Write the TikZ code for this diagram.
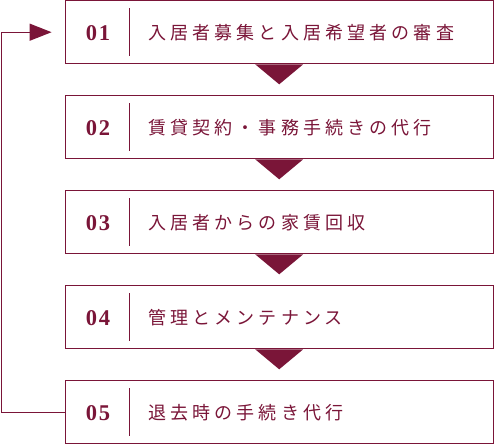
\documentclass[tikz,border=0pt]{standalone}
\usepackage{fontspec}
\setmainfont{Liberation Serif}
\newfontfamily\jp{Noto Sans CJK JP}[LetterSpace=23]
\newfontfamily\numfont{Liberation Serif}[LetterSpace=8]
\usetikzlibrary{calc,arrows.meta}
\definecolor{wine}{RGB}{122,21,56}
\tikzset{
  stepbox/.style={draw=wine, line width=1.2pt, minimum width=428pt, minimum height=63pt, inner sep=0pt},
  num/.style={text=wine, font=\numfont\fontsize{22.5}{22}\selectfont\bfseries, anchor=center, inner sep=0pt},
  lbl/.style={text=wine, font=\jp\fontsize{18}{18}\selectfont, anchor=west, inner sep=0pt},
  divider/.style={draw=wine, line width=1pt},
  tri/.style={fill=wine, draw=none},
}
\begin{document}
\begin{tikzpicture}[x=1pt,y=-1pt]
\useasboundingbox (0,0) rectangle (494,445);
\foreach \i/\n/\t in {1/01/入居者募集と入居希望者の審査, 2/02/賃貸契約・事務手続きの代行, 3/03/入居者からの家賃回収, 4/04/管理とメンテナンス, 5/05/退去時の手続き代行}{
  \node[stepbox] (b\i) at (279.2, {32.2+95*(\i-1)}) {};
  \node[num] (n\i) at (98, {33.5+95*(\i-1)}) {\n};
  \node[lbl] (t\i) at (148, {33+95*(\i-1)}) {\t};
  \draw[divider] ($(b\i.west)+(65,-24)$) -- ($(b\i.west)+(65,24)$);
}
\foreach \i in {1,2,3,4}{
  \fill[tri] ($(b\i.south)+(-24,0)$) -- ($(b\i.south)+(24,0)$) -- ($(b\i.south)+(0,20)$) -- cycle;
}
\draw[wine, line width=1.2pt, -{Triangle[length=22pt,width=17pt]}, shorten >=13pt] (b5.west) -- ++(-63.5,0) |- (b1.west);
\end{tikzpicture}
\end{document}
